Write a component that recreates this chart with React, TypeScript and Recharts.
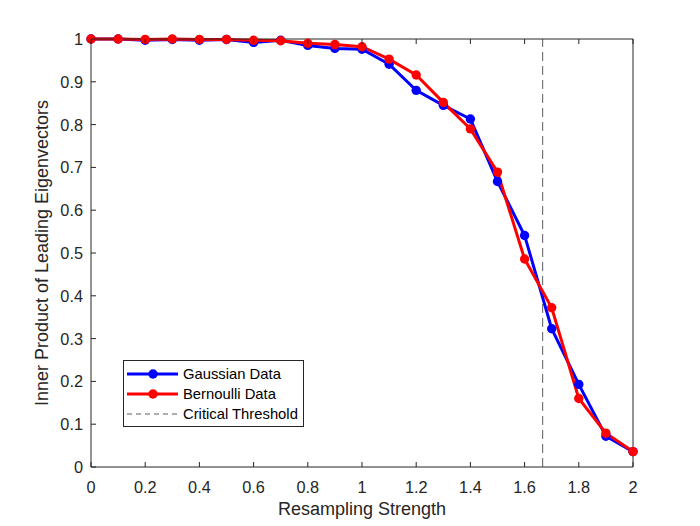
import React from "react";
import {
  LineChart,
  Line,
  XAxis,
  YAxis,
  ReferenceLine,
} from "recharts";

const strength = [0, 0.1, 0.2, 0.3, 0.4, 0.5, 0.6, 0.7, 0.8, 0.9, 1.0, 1.1, 1.2, 1.3, 1.4, 1.5, 1.6, 1.7, 1.8, 1.9, 2.0];
const gaussian = [1.0, 1.0, 0.997, 0.999, 0.997, 0.999, 0.992, 0.997, 0.985, 0.978, 0.976, 0.941, 0.88, 0.845, 0.813, 0.667, 0.541, 0.323, 0.193, 0.072, 0.036];
const bernoulli = [1.0, 1.0, 0.999, 1.0, 0.999, 0.999, 0.997, 0.996, 0.99, 0.987, 0.982, 0.953, 0.916, 0.852, 0.79, 0.689, 0.486, 0.372, 0.16, 0.079, 0.036];
const criticalThreshold = 5 / 3;
const xTicks = [0, 0.2, 0.4, 0.6, 0.8, 1, 1.2, 1.4, 1.6, 1.8, 2];
const yTicks = [0, 0.1, 0.2, 0.3, 0.4, 0.5, 0.6, 0.7, 0.8, 0.9, 1];

const data = strength.map((s, i) => ({
  s,
  gaussian: gaussian[i],
  bernoulli: bernoulli[i],
}));

const AXIS = "#262626";
const FONT = "'Liberation Sans', Arial, sans-serif";
const TICK_FS = 16.3;
const fmt = (v: number) => String(Number(v.toFixed(1)));

const BottomTick = ({ x, y, payload }: any) => (
  <g>
    <line x1={x} x2={x} y1={y} y2={y - 5} stroke={AXIS} />
    <text x={x} y={y + 26} textAnchor="middle" fill={AXIS} fontSize={TICK_FS} fontFamily={FONT}>
      {fmt(payload.value)}
    </text>
  </g>
);

const LeftTick = ({ x, y, payload }: any) => (
  <g>
    <line x1={x} x2={x + 5} y1={y} y2={y} stroke={AXIS} />
    <text x={x - 8} y={y + 6} textAnchor="end" fill={AXIS} fontSize={TICK_FS} fontFamily={FONT}>
      {fmt(payload.value)}
    </text>
  </g>
);

const TopTick = ({ x, y }: any) => <line x1={x} x2={x} y1={y} y2={y + 5} stroke={AXIS} />;
const RightTick = ({ x, y }: any) => <line x1={x} x2={x - 5} y1={y} y2={y} stroke={AXIS} />;

const XLabel = ({ viewBox }: any) => (
  <text
    x={viewBox.x + viewBox.width / 2}
    y={515}
    textAnchor="middle"
    fill={AXIS}
    fontSize={18}
    fontFamily={FONT}
  >
    Resampling Strength
  </text>
);

const YLabel = ({ viewBox }: any) => {
  const cy = viewBox.y + viewBox.height / 2;
  return (
    <text
      x={48}
      y={cy}
      transform={`rotate(-90 48 ${cy})`}
      textAnchor="middle"
      fill={AXIS}
      fontSize={18}
      fontFamily={FONT}
    >
      Inner Product of Leading Eigenvectors
    </text>
  );
};

const legendItems = [
  { label: "Gaussian Data", color: "#0000ff", dash: undefined, w: 3, dot: true },
  { label: "Bernoulli Data", color: "#ff0000", dash: undefined, w: 3, dot: true },
  { label: "Critical Threshold", color: "#333", dash: "5 4", w: 0.8, dot: false },
];

const LegendBox = () => (
  <div
    style={{
      position: "absolute",
      left: 123,
      top: 360,
      boxSizing: "border-box",
      border: `1px solid ${AXIS}`,
      background: "#fff",
      width: 181,
      height: 67,
      padding: "3px 0",
      fontFamily: FONT,
      fontSize: 14.8,
      color: "#000",
    }}
  >
    {legendItems.map((it) => (
      <div key={it.label} style={{ display: "flex", alignItems: "center", height: 20 }}>
        <svg width={59} height={20} style={{ flex: "none" }}>
          <line x1={3} x2={54} y1={10} y2={10} stroke={it.color} strokeWidth={it.w} strokeDasharray={it.dash} />
          {it.dot && <circle cx={29} cy={10} r={4.7} fill={it.color} />}
        </svg>
        <span style={{ whiteSpace: "nowrap" }}>{it.label}</span>
      </div>
    ))}
  </div>
);

export default function App() {
  return (
    <div style={{ position: "absolute", left: 0, top: 0, width: 700, height: 526, background: "#fff" }}>
      <LineChart
        width={700}
        height={526}
        data={data}
        margin={{ top: 38, right: 66, bottom: 29, left: 41 }}
      >
        <XAxis
          dataKey="s"
          type="number"
          domain={[0, 2]}
          ticks={xTicks}
          height={30}
          tickSize={0}
          tickMargin={0}
          tickLine={false}
          axisLine={{ stroke: AXIS }}
          tick={<BottomTick />}
          label={<XLabel />}
        />
        <XAxis
          xAxisId="top"
          dataKey="s"
          type="number"
          orientation="top"
          domain={[0, 2]}
          ticks={xTicks}
          height={1}
          tickSize={0}
          tickMargin={0}
          tickLine={false}
          axisLine={{ stroke: AXIS }}
          tick={<TopTick />}
        />
        <YAxis
          type="number"
          domain={[0, 1]}
          ticks={yTicks}
          width={50}
          tickSize={0}
          tickMargin={0}
          tickLine={false}
          axisLine={{ stroke: AXIS }}
          tick={<LeftTick />}
          label={<YLabel />}
        />
        <YAxis
          yAxisId="right"
          type="number"
          orientation="right"
          domain={[0, 1]}
          ticks={yTicks}
          width={1}
          tickSize={0}
          tickMargin={0}
          tickLine={false}
          axisLine={{ stroke: AXIS }}
          tick={<RightTick />}
        />
        <ReferenceLine
          x={criticalThreshold}
          stroke="#333"
          strokeWidth={0.8}
          strokeDasharray="9 5"
        />
        <Line
          dataKey="gaussian"
          stroke="#0000ff"
          strokeWidth={3}
          dot={{ r: 4.7, fill: "#0000ff", stroke: "#0000ff", strokeWidth: 0 }}
          isAnimationActive={false}
        />
        <Line
          dataKey="bernoulli"
          stroke="#ff0000"
          strokeWidth={3}
          dot={{ r: 4.7, fill: "#ff0000", stroke: "#ff0000", strokeWidth: 0 }}
          isAnimationActive={false}
        />
      </LineChart>
      <LegendBox />
    </div>
  );
}
